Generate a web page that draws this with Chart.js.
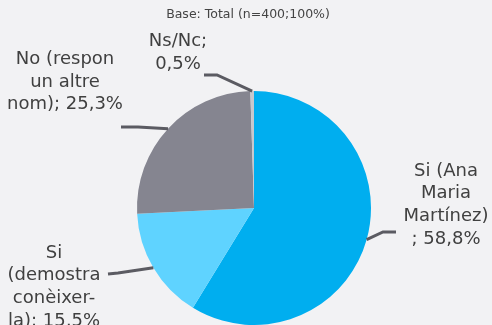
<!DOCTYPE html>
<html>
<head>
<meta charset="utf-8">
<script src="https://cdn.jsdelivr.net/npm/chart.js@4.4.1/dist/chart.umd.min.js"></script>
<style>
  html, body { margin: 0; padding: 0; background: #f2f2f4; }
  #wrap { width: 492px; height: 325px; position: relative; }
</style>
</head>
<body>
<div id="wrap"><canvas id="chart"></canvas></div>
<script>
// Survey answers, in drawing order (clockwise from 12 o'clock)
const categories = ['Si (Ana Maria Martínez)', 'Si (demostra conèixer-la)', 'No (respon un altre nom)', 'Ns/Nc'];
const shares = [58.8, 15.5, 25.3, 0.5];
const sliceColors = ['#00aeef', '#5fd3ff', '#858590', '#c8c8cd'];

// Wrapped label lines; {v} is replaced by the formatted share
const labelLines = [
    ['Si (Ana', 'Maria', 'Martínez)', '; {v}'],
    ['Si', '(demostra', 'conèixer-', 'la); {v}'],
    ['No (respon', 'un altre', 'nom); {v}'],
    ['Ns/Nc;', '{v}']
];

// Callout layout: elbow/end of the leader line and text block centre
const callouts = [
    { elbow: [383, 232], end: [396, 232], tx: 446, ty: 205 },
    { elbow: [118, 273], end: [108, 274], tx: 54, ty: 287 },
    { elbow: [138, 127], end: [121, 127], tx: 65, ty: 82 },
    { elbow: [217, 75], end: [204, 75], tx: 178, ty: 53 }
];

const TITLE = 'Base: Total (n=400;100%)';
const FONT = '"DejaVu Sans", sans-serif';

function fmt(v) {
    return v.toFixed(1).replace('.', ',') + '%';
}

const calloutPlugin = {
    id: 'callouts',
    afterDatasetsDraw(chart) {
        const ctx = chart.ctx;
        const arcs = chart.getDatasetMeta(0).data;
        ctx.save();

        // title
        ctx.fillStyle = '#444444';
        ctx.font = '12.5px ' + FONT;
        ctx.textAlign = 'center';
        ctx.textBaseline = 'middle';
        ctx.fillText(TITLE, 248, 15);

        arcs.forEach((arc, i) => {
            const c = callouts[i];
            const mid = (arc.startAngle + arc.endAngle) / 2;
            const px = arc.x + Math.cos(mid) * arc.outerRadius;
            const py = arc.y + Math.sin(mid) * arc.outerRadius;

            ctx.strokeStyle = '#5b5b62';
            ctx.lineWidth = 3;
            ctx.beginPath();
            ctx.moveTo(px, py);
            ctx.lineTo(c.elbow[0], c.elbow[1]);
            ctx.lineTo(c.end[0], c.end[1]);
            ctx.stroke();

            const lines = labelLines[i].map(s => s.replace('{v}', fmt(shares[i])));
            const lh = 22.7;
            ctx.fillStyle = '#404040';
            ctx.font = '18px ' + FONT;
            ctx.textAlign = 'center';
            ctx.textBaseline = 'middle';
            const top = c.ty - (lines.length - 1) * lh / 2;
            lines.forEach((s, k) => ctx.fillText(s, c.tx, top + k * lh));
        });
        ctx.restore();
    }
};

new Chart(document.getElementById('chart'), {
    type: 'pie',
    data: {
        labels: categories,
        datasets: [{
            data: shares,
            backgroundColor: sliceColors,
            borderWidth: 0
        }]
    },
    options: {
        responsive: true,
        maintainAspectRatio: false,
        animation: false,
        layout: { padding: { top: 91, left: 16, right: 0, bottom: 0 } },
        plugins: {
            legend: { display: false },
            tooltip: { enabled: false }
        }
    },
    plugins: [calloutPlugin]
});
</script>
</body>
</html>
